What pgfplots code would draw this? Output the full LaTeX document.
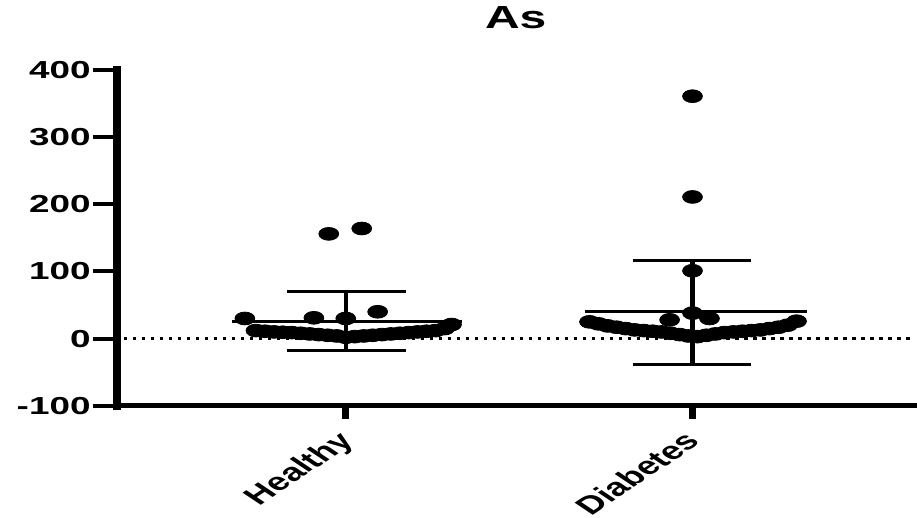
\documentclass[border=0pt]{standalone}
\usepackage{pgfplots}
\pgfplotsset{compat=1.18}
\usepackage{fontspec}
\setmainfont{Liberation Sans}[FakeStretch=1.5]
\newfontfamily\plainfont{Liberation Sans}
\begin{document}
\begin{tikzpicture}
\begin{axis}[
  scale only axis, width=399pt, height=168pt,
  xmin=0.34, xmax=2.64, ymin=-100, ymax=400,
  axis x line*=bottom, axis y line*=left,
  x axis line style={line width=2.6pt, line cap=rect},
  y axis line style={line width=4.2pt, line cap=rect},
  ytick={-100,0,100,200,300,400},
  yticklabels={-100,0,100,200,300,400},
  xtick={1,2}, xticklabels={Healthy,Diabetes},
  tick align=outside,
  major tick length=12pt,
  ytick style={line width=2pt, black},
  xtick style={line width=3.5pt, black, /pgfplots/major tick length=6.5pt},
  tick label style={font=\fontsize{12.3}{14}\selectfont\bfseries},
  y tick label style={inner xsep=1pt},
  x tick label style={font=\plainfont\fontsize{12.5}{14}\selectfont\bfseries, xshift=-5pt, yshift=1pt, xscale=1.5, rotate=45, anchor=north east, inner sep=0.5pt},
  title={As},
  title style={font=\fontsize{16}{18}\selectfont\bfseries, yshift=11pt},
  clip=false,
]
\addplot[black, line width=1.2pt, dash pattern=on 1.6pt off 2.9pt] coordinates {(0.36,0) (2.64,0)};
% Healthy
\addplot[only marks, mark=*, mark size=3.2pt, mark options={xscale=1.55, fill=black, draw=black}] coordinates {
(0.709,30) (0.908,31) (1.000,30) (1.092,40) (0.951,156) (1.046,164) (1.305,21)
(0.741,12) (0.767,11) (0.793,10) (0.818,9.5) (0.844,9) (0.870,8) (0.896,7) (0.922,6)
(0.948,5) (0.974,4) (1.000,2) (1.026,3) (1.052,4) (1.078,5) (1.104,6) (1.130,7)
(1.156,8) (1.182,9) (1.207,10) (1.233,11) (1.259,12) (1.285,15)
};
% Diabetes
\addplot[only marks, mark=*, mark size=3.2pt, mark options={xscale=1.55, fill=black, draw=black}] coordinates {
(2.000,361) (2.000,211) (2.000,101) (2.000,38) (1.934,28) (2.049,30)
(1.703,25) (1.729,22) (1.755,19) (1.781,17) (1.807,15) (1.833,13) (1.859,12) (1.885,11)
(1.911,10) (1.937,8) (1.963,6) (1.988,4) (2.014,3) (2.040,5) (2.066,7) (2.092,9)
(2.118,10) (2.144,11) (2.170,12) (2.196,13) (2.222,15) (2.248,17) (2.274,20) (2.300,26)
};
% Healthy mean and SD
\addplot[black, line width=1.5pt] coordinates {(0.6715,26) (1.334,26)};
\addplot[black, line width=1.5pt] coordinates {(0.83,70) (1.173,70)};
\addplot[black, line width=1.5pt] coordinates {(0.83,-18) (1.173,-18)};
\addplot[black, line width=2.2pt] coordinates {(1,-18) (1,70)};
% Diabetes mean and SD
\addplot[black, line width=1.5pt] coordinates {(1.689,40) (2.331,40)};
\addplot[black, line width=1.5pt] coordinates {(1.827,117) (2.17,117)};
\addplot[black, line width=1.5pt] coordinates {(1.827,-38) (2.17,-38)};
\addplot[black, line width=2.2pt] coordinates {(2,-38) (2,117)};
\end{axis}
\path ([xshift=-58.5pt]current axis.south west);
\end{tikzpicture}
\end{document}
